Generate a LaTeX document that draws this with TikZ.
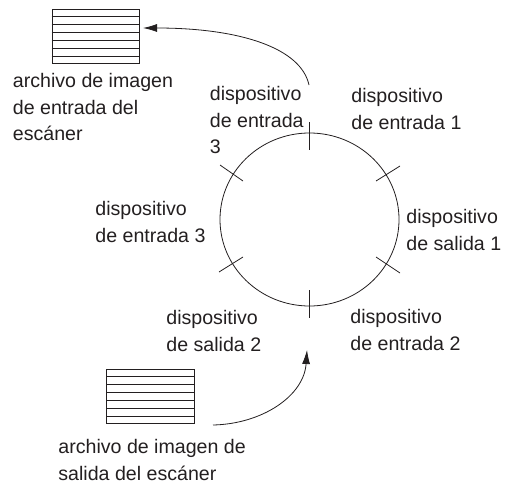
\documentclass[tikz,border=0pt]{standalone}
\usepackage{fontspec}
\setmainfont{Liberation Sans}
\usetikzlibrary{shapes.geometric}
\usetikzlibrary{arrows.meta}
\usetikzlibrary{calc}
\definecolor{inkgray}{HTML}{231F20}

\begin{document}
\begin{tikzpicture}[x=1pt, y=-1pt, color=inkgray, line width=0.8pt]
\useasboundingbox (0,0) rectangle (510,484);

\tikzstyle{devlabel}=[align=left, anchor=north west, inner sep=0pt, font=\fontsize{19.6}{26.6}\selectfont]
\tikzstyle{imagefile}=[draw, anchor=north west, inner sep=0pt, minimum width=87.5pt, minimum height=54pt]
\tikzstyle{flow}=[-{Latex[length=14pt, width=8pt]}]

\node[draw, shape=ellipse, inner sep=0pt, minimum width=179pt, minimum height=173pt] (ring) at (309.5,219.5) {};

\foreach \ax/\ay/\bx/\by in {309/122/309/150, 400/166/376/181, 400/273/376/257,
	309/290/309/318, 219/272/243/257, 220/165/243/181}
	\draw (\ax,\ay) -- (\bx,\by);

\node[imagefile] (infile) at (51.5,9) {};
\node[imagefile] (outfile) at (106,369) {};
\foreach \i in {1,...,6} {
	\draw ($(infile.north west)!\i/7!(infile.south west)$) -- ($(infile.north east)!\i/7!(infile.south east)$);
	\draw ($(outfile.north west)!\i/7!(outfile.south west)$) -- ($(outfile.north east)!\i/7!(outfile.south east)$);
}

\node[devlabel] (infilelabel) at (12.5,72.8) {archivo de imagen\\de entrada del\\escáner};
\node[devlabel] (outfilelabel) at (58,438.8) {archivo de imagen de\\salida del escáner};
\node[devlabel] (devtop) at (209.5,85.8) {dispositivo\\de entrada\\3};
\node[devlabel] (devone) at (351,88.3) {dispositivo\\de entrada 1};
\node[devlabel] (devright) at (406,208.8) {dispositivo\\de salida 1};
\node[devlabel] (devtwo) at (350,308.8) {dispositivo\\de entrada 2};
\node[devlabel] (devleft) at (95,200.8) {dispositivo\\de entrada 3};
\node[devlabel] (devlow) at (166,309.8) {dispositivo\\de salida 2};

\coordinate (readstart) at (309,85);
\coordinate (readend) at (143,28);
\coordinate (writestart) at (213,425);
\coordinate (writeend) at (307,350);

\draw[flow] (readstart) .. controls (301,48) and (240,28) .. (readend);
\draw[flow] (writestart) .. controls (262,424) and (304,396) .. (writeend);
\end{tikzpicture}
\end{document}
